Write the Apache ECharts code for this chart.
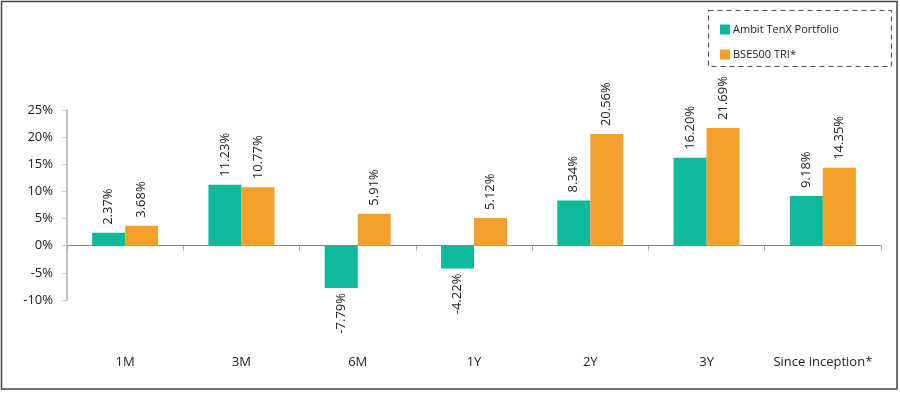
<!DOCTYPE html>
<html>
<head>
<meta charset="utf-8">
<script src="https://cdn.jsdelivr.net/npm/echarts@6/dist/echarts.min.js"></script>
<style>
  html, body { margin: 0; padding: 0; background: #fff; }
  #chart { width: 900px; height: 393px; }
</style>
</head>
<body>
<div id="chart"></div>
<script>
// Data
const categories = ['1M', '3M', '6M', '1Y', '2Y', '3Y', 'Since inception*'];
const seriesNames = ['Ambit TenX Portfolio', 'BSE500 TRI*'];
const tenxValues = [2.37, 11.23, -7.79, -4.22, 8.34, 16.20, 9.18];
const bseValues = [3.68, 10.77, 5.91, 5.12, 20.56, 21.69, 14.35];
const yTicks = { min: -10, max: 25, interval: 5 };

const fontFamily = '"Open Sans", Lato, sans-serif';
const colors = ['#10b89c', '#f5a02a'];

// negative bars get their label below, reading upwards
function toItems(values) {
  return values.map(v => ({
    value: v,
    label: { align: v < 0 ? 'right' : 'left', distance: v < 0 ? 5 : 8 }
  }));
}

function makeSeries(name, values, color) {
  return {
    name: name,
    type: 'bar',
    xAxisIndex: 0,
    data: toItems(values),
    barWidth: 33,
    barGap: '0%',
    itemStyle: { color: color },
    label: {
      show: true,
      position: 'outside',
      rotate: 90,
      verticalAlign: 'middle',
      color: '#222',
      fontFamily: fontFamily,
      fontSize: 13,
      formatter: p => p.value.toFixed(2) + '%'
    }
  };
}

const chart = echarts.init(document.getElementById('chart'), null, { renderer: 'canvas' });

const options = {
  animation: false,
  color: colors,
  grid: { left: 67, right: 19, top: 110, bottom: 93, containLabel: false, outerBoundsMode: 'none' },
  legend: {
    orient: 'vertical',
    left: 715,
    top: 19,
    itemWidth: 10,
    itemHeight: 10,
    itemGap: 14,
    icon: 'rect',
    textStyle: { color: '#222', fontFamily: fontFamily, fontSize: 11, padding: [0, 0, 0, -2] },
    data: seriesNames
  },
  xAxis: [
    {
      // zero line with category ticks
      type: 'category',
      data: categories,
      axisLine: { onZero: true, lineStyle: { color: '#888', width: 1 } },
      axisTick: { show: true, length: 5, lineStyle: { color: '#aaa' } },
      axisLabel: { show: false }
    },
    {
      // category names along the bottom
      type: 'category',
      data: categories,
      position: 'bottom',
      axisLine: { show: false, onZero: false },
      axisTick: { show: false },
      axisLabel: { interval: 0, margin: 56, color: '#222', fontFamily: fontFamily, fontSize: 13 }
    }
  ],
  yAxis: {
    type: 'value',
    min: yTicks.min,
    max: yTicks.max,
    interval: yTicks.interval,
    splitLine: { show: false },
    axisLine: { show: true, lineStyle: { color: '#c4c4c4', width: 2 } },
    axisTick: { show: true, length: 5, lineStyle: { color: '#c4c4c4' } },
    axisLabel: {
      margin: 14,
      color: '#222',
      fontFamily: fontFamily,
      fontSize: 13,
      formatter: v => v + '%'
    }
  },
  graphic: [
    {
      // outer frame
      type: 'rect',
      shape: { x: 1.5, y: 1.5, width: 895.5, height: 387.5 },
      style: { fill: 'none', stroke: '#444', lineWidth: 1.5 },
      silent: true
    },
    {
      // dashed legend box
      type: 'rect',
      shape: { x: 708.5, y: 10.5, width: 183, height: 56 },
      style: { fill: 'none', stroke: '#555', lineWidth: 1.2, lineDash: [5, 4] },
      silent: true
    }
  ],
  series: [
    makeSeries(seriesNames[0], tenxValues, colors[0]),
    makeSeries(seriesNames[1], bseValues, colors[1])
  ]
};

chart.setOption(options);
</script>
</body>
</html>
